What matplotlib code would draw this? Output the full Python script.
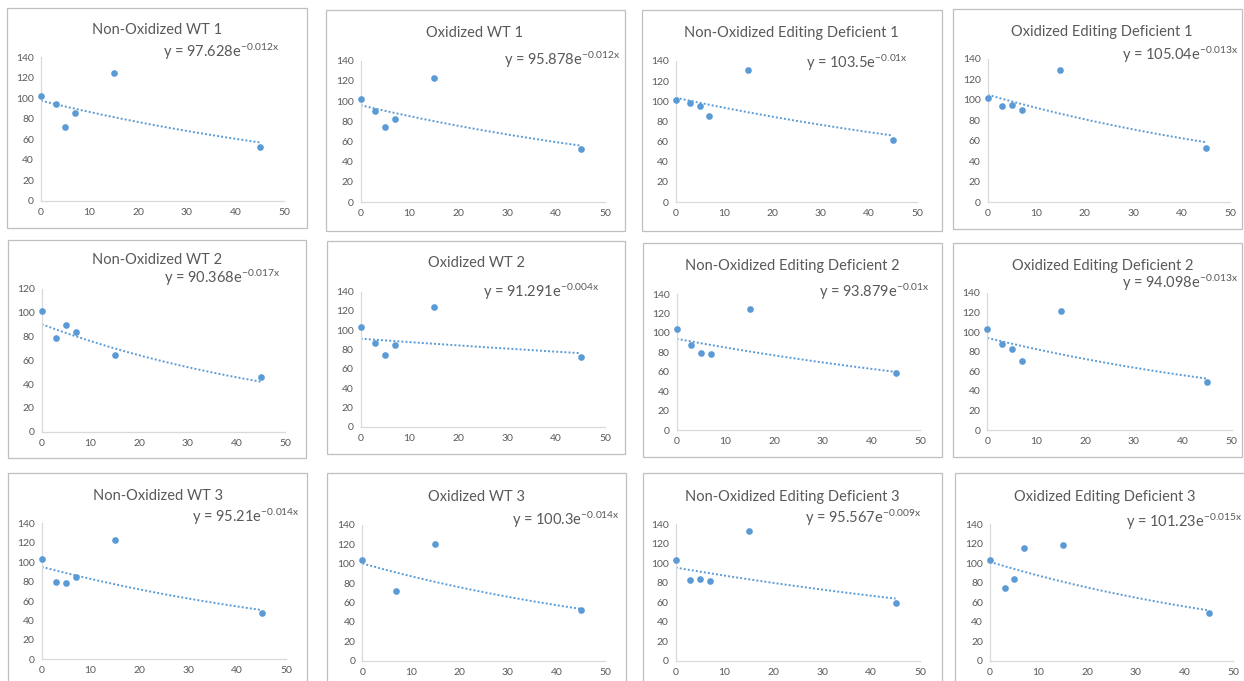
import numpy as np
import matplotlib
matplotlib.use("Agg")
import matplotlib.pyplot as plt
from matplotlib.patches import Rectangle

plt.rcParams['font.family'] = ['Lato', 'DejaVu Sans']
plt.rcParams['mathtext.fontset'] = 'custom'
plt.rcParams['mathtext.rm'] = 'Lato'
plt.rcParams['mathtext.default'] = 'rm'

# ---- data -------------------------------------------------------------
days = [0, 3, 5, 7, 15, 45]
days_ox_wt3 = [0, 7, 15, 45]

titles = [
    "Non-Oxidized WT 1", "Oxidized WT 1", "Non-Oxidized Editing Deficient 1", "Oxidized Editing Deficient 1",
    "Non-Oxidized WT 2", "Oxidized WT 2", "Non-Oxidized Editing Deficient 2", "Oxidized Editing Deficient 2",
    "Non-Oxidized WT 3", "Oxidized WT 3", "Non-Oxidized Editing Deficient 3", "Oxidized Editing Deficient 3",
]

nonox_wt1 = [102.2, 94.1, 72.3, 86.0, 124.4, 52.4]
ox_wt1 = [101.8, 89.9, 74.8, 82.7, 122.5, 52.4]
nonox_ed1 = [101.1, 98.2, 95.8, 85.3, 130.8, 61.6]
ox_ed1 = [101.8, 93.7, 94.6, 90.1, 129.6, 53.2]
nonox_wt2 = [101.8, 79.1, 90.0, 84.1, 64.2, 46.0]
ox_wt2 = [103.7, 87.1, 74.0, 85.0, 124.4, 72.6]
nonox_ed2 = [103.6, 87.8, 79.3, 77.9, 124.2, 58.3]
ox_ed2 = [103.1, 87.4, 82.6, 70.3, 121.2, 49.5]
nonox_wt3 = [103.3, 80.0, 78.6, 85.1, 122.5, 48.0]
ox_wt3 = [103.5, 71.9, 120.7, 51.9]
nonox_ed3 = [103.0, 82.5, 83.5, 81.5, 133.5, 59.2]
ox_ed3 = [102.8, 74.8, 83.3, 115.1, 118.5, 49.2]

series = [nonox_wt1, ox_wt1, nonox_ed1, ox_ed1,
          nonox_wt2, ox_wt2, nonox_ed2, ox_ed2,
          nonox_wt3, ox_wt3, nonox_ed3, ox_ed3]
x_values = [days] * 9 + [days_ox_wt3] + [days] * 2

# exponential trendline coefficients y = a * exp(b x), as printed
fit_a = ["97.628", "95.878", "103.5", "105.04",
         "90.368", "91.291", "93.879", "94.098",
         "95.21", "100.3", "95.567", "101.23"]
fit_b = ["-0.012", "-0.012", "-0.01", "-0.013",
         "-0.017", "-0.004", "-0.01", "-0.013",
         "-0.014", "-0.014", "-0.009", "-0.015"]

y_max = [140, 140, 140, 140, 120, 140, 140, 140, 140, 140, 140, 140]

# ---- layout (pixels) --------------------------------------------------
W, H = 1244, 681
# outer chart frame: left, top, right, bottom
frames = [
    (7, 8, 307, 228), (326, 10, 625, 231), (642, 10, 942, 231), (953, 9, 1242, 229),
    (8, 240, 306, 458), (327, 241, 625, 454), (643, 243, 942, 457), (953, 243, 1242, 457),
    (8, 473, 307, 695), (327, 473, 626, 695), (643, 473, 942, 695), (955, 473, 1250, 695),
]
# plot area: x at 0, x at 50, y at 0, y at top
plot_areas = [
    (41, 284, 200.7, 57.3), (360.7, 605, 202, 60.7), (675.7, 917, 202, 61), (987.7, 1230, 202, 59),
    (41.7, 285, 431.7, 289), (360.7, 605, 426.7, 291.7), (676.7, 920, 430, 294), (987.3, 1231.7, 430, 293),
    (41.7, 286, 659.3, 523.3), (362.3, 605, 660.7, 525), (675.7, 920, 660.7, 524.3), (990, 1233, 660.7, 524),
]
title_pos = [
    (157, 30), (475, 33), (791, 33), (1102, 32),
    (157, 260), (476, 263), (792, 266), (1103, 266),
    (158, 496), (477, 497), (792, 497), (1105, 497),
]
eq_pos = [
    (163, 52), (504, 60), (806, 63), (1122, 55),
    (164, 278), (483, 292), (819, 292), (1122, 283),
    (192, 517), (512, 520), (805, 518), (1126, 522),
]

BLUE = "#5B9BD5"
TEXT = "#595959"
AXIS = "#D9D9D9"
FRAME = "#BFBFBF"

fig = plt.figure(figsize=(W / 100, H / 100), dpi=100)
fig.patch.set_facecolor("white")

for i in range(12):
    l, t, r, b = frames[i]
    fig.patches.append(Rectangle((l / W, 1 - b / H), (r - l) / W, (b - t) / H,
                                 transform=fig.transFigure, fill=False,
                                 edgecolor=FRAME, linewidth=0.9, zorder=0))

    x0, x50, y0, ytop = plot_areas[i]
    ax = fig.add_axes([x0 / W, 1 - y0 / H, (x50 - x0) / W, (y0 - ytop) / H])
    ax.set_xlim(0, 50)
    ax.set_ylim(0, y_max[i])
    ax.set_facecolor("none")
    for s in ("top", "right"):
        ax.spines[s].set_visible(False)
    for s in ("left", "bottom"):
        ax.spines[s].set_color(AXIS)
        ax.spines[s].set_linewidth(0.9)
    ax.set_xticks(np.arange(0, 51, 10))
    ax.set_yticks(np.arange(0, y_max[i] + 1, 20))
    ax.tick_params(length=0, labelsize=7.5, labelcolor=TEXT, pad=5)

    xs = np.array(x_values[i], dtype=float)
    ys = np.array(series[i], dtype=float)
    a, bb = float(fit_a[i]), float(fit_b[i])
    xt = np.linspace(0, 45, 200)
    ax.plot(xt, a * np.exp(bb * xt), color=BLUE, linewidth=1.4,
            linestyle=(0, (1, 1.1)), dash_capstyle="butt")
    ax.plot(xs, ys, "o", color=BLUE, markersize=4.8, markeredgewidth=0,
            clip_on=False, zorder=3)

    tx, ty = title_pos[i]
    fig.text(tx / W, 1 - ty / H, titles[i], ha="center", va="center",
             fontsize=10.5, color=TEXT)
    ex, ey = eq_pos[i]
    fig.text(ex / W, 1 - ey / H,
             "y = " + fit_a[i] + "e$^{" + fit_b[i].replace("-", "\u2212") + "x}$",
             ha="left", va="center", fontsize=10.5, color=TEXT)

fig.savefig("out.png", dpi=100, facecolor="white")
